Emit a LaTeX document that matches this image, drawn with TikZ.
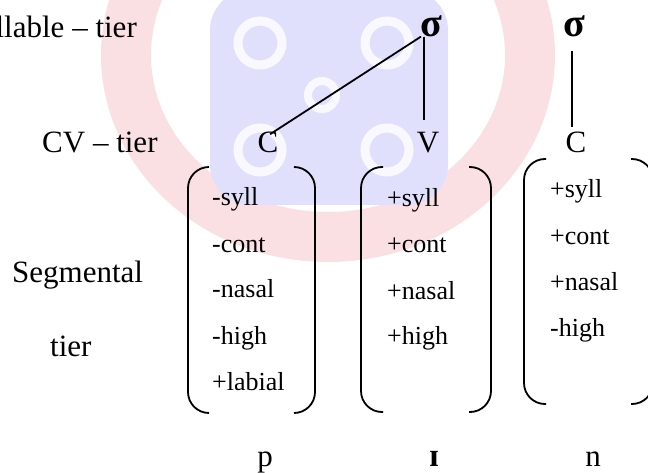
\documentclass[tikz,border=0pt]{standalone}
\usepackage{fontspec}
\setmainfont{Liberation Serif}
\begin{document}
\begin{tikzpicture}[x=1pt,y=-1pt,
  tierlabel/.style={font=\fontsize{31}{36}\selectfont, inner sep=0pt},
  feat/.style={font=\fontsize{26}{30}\selectfont, inner sep=0pt, anchor=base west},
  unit/.style={font=\fontsize{31}{36}\selectfont, inner sep=0pt, anchor=base},
  syl/.style={font=\fontsize{40}{42}\selectfont\bfseries, inner sep=0pt, anchor=base},
  assoc/.style={line width=1.8pt},
  brk/.style={line width=1.8pt, rounded corners=21pt}]
\definecolor{crestred}{RGB}{250,224,227}
\definecolor{crestblue}{RGB}{224,224,252}
\useasboundingbox (0,0) rectangle (648,473);
\begin{scope}
  \clip (0,0) rectangle (648,473);
  % faded crest in the background
  \draw[crestred, line width=50pt] (328,55) ellipse [x radius=202, y radius=182];
  \fill[crestblue, rounded corners=40pt] (210,-10) rectangle (448,205);
  \foreach \cx/\cy in {260/43, 387/43, 260/150, 387/150}
    \draw[white, line width=9pt, opacity=0.8] (\cx,\cy) circle [radius=22];
  \draw[white, line width=8pt, opacity=0.8] (322,95) circle [radius=14];

  % feature-matrix brackets
  \draw[brk] (209,167) -- (188,167) -- (188,413) -- (209,413);
  \draw[brk] (294,167) -- (315,167) -- (315,413) -- (294,413);
  \draw[brk] (383,167) -- (361,167) -- (361,412) -- (383,412);
  \draw[brk] (469,167) -- (491,167) -- (491,412) -- (469,412);
  \draw[brk] (546,159) -- (524,159) -- (524,404) -- (546,404);
  \draw[brk] (631,159) -- (653,159) -- (653,404) -- (631,404);
\end{scope}

% tier labels
\node[tierlabel, anchor=base east] (sylltier) at (137,38) {Syllable – tier};
\node[tierlabel, anchor=base west] (cvtier) at (42,153) {CV – tier};
\node[tierlabel, anchor=base west] (segtier) at (12,283) {Segmental};
\node[tierlabel, anchor=base west] (segtier2) at (50,356) {tier};

% syllable nodes
\node[syl] (s1) at (431,37) {σ};
\node[syl] (s2) at (574,37) {σ};

% CV skeleton
\node[unit] (c1) at (268,153) {C};
\node[unit] (v1) at (428,153) {V};
\node[unit] (c2) at (576,153) {C};

% association lines
\draw[assoc] ([xshift=-10pt,yshift=1pt]s1.south) -- ([xshift=2pt,yshift=-2pt]c1.north);
\draw[assoc] ([xshift=-7pt,yshift=1pt]s1.south) -- ([xshift=-4pt,yshift=13pt]v1.north);
\draw[assoc] ([xshift=-2pt,yshift=-13pt]s2.south) -- ([xshift=-4pt,yshift=5pt]c2.north);

% segmental features
\node[feat] (f11) at (212,206) {-syll};
\node[feat] (f12) at (212,252) {-cont};
\node[feat] (f13) at (212,298) {-nasal};
\node[feat] (f14) at (212,344) {-high};
\node[feat] (f15) at (212,390) {+labial};

\node[feat] (f21) at (387,207) {+syll};
\node[feat] (f22) at (387,253) {+cont};
\node[feat] (f23) at (387,299) {+nasal};
\node[feat] (f24) at (387,344) {+high};

\node[feat] (f31) at (550,198) {+syll};
\node[feat] (f32) at (550,244) {+cont};
\node[feat] (f33) at (550,290) {+nasal};
\node[feat] (f34) at (550,336) {-high};

% segments
\node[unit] (p) at (265,466) {p};
\node[unit, font=\fontsize{33}{36}\selectfont\bfseries] (i) at (434,466) {ɪ};
\node[unit] (n) at (593,466) {n};
\end{tikzpicture}
\end{document}
